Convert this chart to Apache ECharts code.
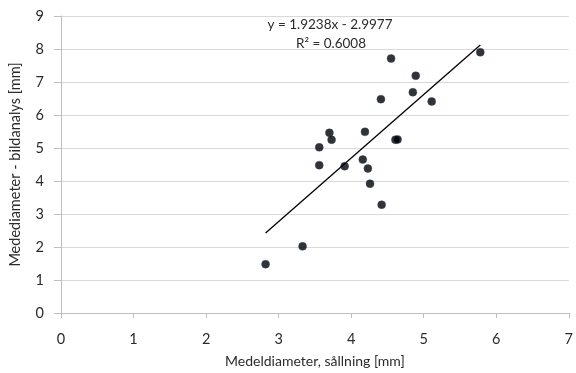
<!DOCTYPE html>
<html>
<head>
<meta charset="utf-8">
<script src="https://cdn.jsdelivr.net/npm/echarts@6/dist/echarts.min.js"></script>
<style>
  html, body { margin: 0; padding: 0; background: #fff; }
  #chart { width: 576px; height: 373px; }
</style>
</head>
<body>
<div id="chart"></div>
<script>
// Sieve mean diameter (x) vs image-analysis diameter (y), mm
const sieveDiameter = [2.82, 3.33, 4.42, 4.41, 5.11, 3.70, 4.19, 3.73, 3.56, 4.61,
                       4.64, 3.56, 3.91, 4.16, 4.23, 4.26, 4.55, 4.89, 4.85, 5.78];
const imageDiameter = [1.48, 2.02, 3.28, 6.48, 6.41, 5.46, 5.49, 5.25, 5.02, 5.25,
                       5.26, 4.48, 4.45, 4.65, 4.38, 3.92, 7.71, 7.19, 6.69, 7.90];

// Linear trend line as stated in the equation label
const slope = 1.9238;
const intercept = -2.9977;
const rSquared = 0.6008;

const xTicks = [0, 1, 2, 3, 4, 5, 6, 7];
const yTicks = [0, 1, 2, 3, 4, 5, 6, 7, 8, 9];

const points = sieveDiameter.map((x, i) => [x, imageDiameter[i]]);
const xMin = Math.min(...sieveDiameter);
const xMax = Math.max(...sieveDiameter);
const trend = [[xMin, slope * xMin + intercept], [xMax, slope * xMax + intercept]];

const font = 'Lato, "Open Sans", sans-serif';
const textColor = '#2b2b2b';

const chart = echarts.init(document.getElementById('chart'), null, { renderer: 'canvas' });
chart.setOption({
  animation: false,
  textStyle: { fontFamily: font },
  grid: { left: 58, right: 5, top: 16, bottom: 60, containLabel: false },
  xAxis: {
    type: 'value',
    min: xTicks[0], max: xTicks[xTicks.length - 1], interval: 1,
    name: 'Medeldiameter, sållning [mm]',
    nameLocation: 'middle', nameGap: 41,
    nameTextStyle: { fontSize: 14, color: textColor, fontFamily: font },
    axisLine: { show: true, onZero: false, lineStyle: { color: '#bfbfbf', width: 1 } },
    axisTick: { show: true, length: 5, lineStyle: { color: '#bfbfbf' } },
    axisLabel: { fontSize: 14.5, color: textColor, margin: 19, fontFamily: font },
    splitLine: { show: false }
  },
  yAxis: {
    type: 'value',
    min: yTicks[0], max: yTicks[yTicks.length - 1], interval: 1,
    name: 'Medediameter - bildanalys [mm]',
    nameLocation: 'middle', nameGap: 38,
    nameTextStyle: { fontSize: 14.5, color: textColor, fontFamily: font },
    axisLine: { show: true, onZero: false, lineStyle: { color: '#bfbfbf', width: 1 } },
    axisTick: { show: true, length: 7, lineStyle: { color: '#bfbfbf' } },
    axisLabel: { fontSize: 14.5, color: textColor, margin: 17, fontFamily: font },
    splitLine: { show: true, lineStyle: { color: '#d9d9d9', width: 1 } }
  },
  graphic: [
    { type: 'text', x: 330, y: 18,
      style: { text: 'y = ' + slope.toFixed(4) + 'x - ' + Math.abs(intercept).toFixed(4),
               fill: textColor, font: '13.5px ' + font, textAlign: 'center' } },
    { type: 'text', x: 331, y: 37,
      style: { text: 'R² = ' + rSquared.toFixed(4),
               fill: textColor, font: '13.5px ' + font, textAlign: 'center' } }
  ],
  series: [
    {
      type: 'line',
      data: trend,
      symbol: 'none',
      lineStyle: { color: '#000', width: 1.3 },
      z: 2
    },
    {
      type: 'scatter',
      data: points,
      symbol: 'circle',
      symbolSize: 8,
      itemStyle: { color: '#000', borderColor: '#24406b', borderWidth: 0.5 },
      z: 3
    }
  ]
});
</script>
</body>
</html>
